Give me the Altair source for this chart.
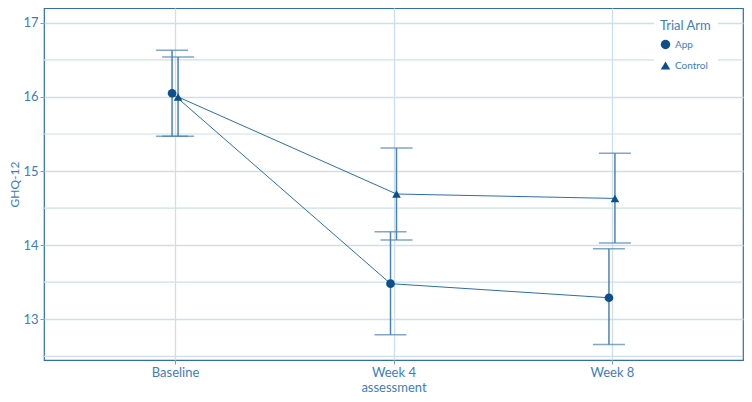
import altair as alt
import pandas as pd

timepoints = ["Baseline", "Week 4\nassessment", "Week 8"]
arms = ["App", "Control"]
app_mean = [16.05, 13.48, 13.29]
app_low = [15.47, 12.79, 12.66]
app_high = [16.63, 14.18, 13.95]
ctl_mean = [16.00, 14.69, 14.63]
ctl_low = [15.47, 14.07, 14.03]
ctl_high = [16.54, 15.31, 15.24]
y_ticks = [13, 14, 15, 16, 17]
y_minor = [12.5, 13.5, 14.5, 15.5, 16.5]

rows = []
for arm, m, lo, hi in [("App", app_mean, app_low, app_high), ("Control", ctl_mean, ctl_low, ctl_high)]:
    for t, a, b, c in zip(timepoints, m, lo, hi):
        rows.append({"time": t, "arm": arm, "mean": a, "low": b, "high": c})
df = pd.DataFrame(rows)
minor_df = pd.DataFrame({"v": y_minor})

BLUE_TXT = "#3f7db7"
GRID = "#cddfeb"
PT = "#0d4f8b"
LINE = "#2c6ea8"
ERR = "#4c82b4"
FONT = "Lato"

x_enc = alt.X("time:O", sort=timepoints,
              scale=alt.Scale(type="point", padding=0.6),
              axis=alt.Axis(title=None, labelAngle=0, labelExpr="split(datum.label, '\\n')",
                            labelFontSize=13, labelColor=BLUE_TXT, labelFont=FONT,
                            grid=True, gridColor=GRID, gridWidth=1.3, domain=False,
                            tickColor="#7f9fbf", tickSize=4, labelPadding=2, labelLineHeight=15))
xoff = alt.XOffset("arm:N", scale=alt.Scale(type="point", domain=arms, range=[-6, 6]))
y_scale = alt.Scale(domain=[12.45, 17.2], nice=False, zero=False)
y_axis = alt.Axis(title="GHQ-12", values=y_ticks, format="d",
                  tickColor="#7f9fbf", tickSize=4, labelFontSize=13, labelColor=BLUE_TXT, labelFont=FONT,
                  titleFontSize=12, titleFontWeight="normal", titleColor=BLUE_TXT, titleFont=FONT,
                  titlePadding=1, grid=True, gridColor=GRID, gridWidth=1.3, domain=False, labelPadding=2)

base = alt.Chart(df)

minor = alt.Chart(minor_df).mark_rule(color=GRID, strokeWidth=1.2).encode(
    y=alt.Y("v:Q", scale=y_scale, axis=y_axis))

lines = base.mark_line(color=LINE, strokeWidth=1).encode(
    x=x_enc, xOffset=xoff, y=alt.Y("mean:Q", scale=y_scale), detail="arm:N")

rules = base.mark_rule(color=ERR, strokeWidth=1.5).encode(
    x=x_enc, xOffset=xoff, y=alt.Y("low:Q", scale=y_scale), y2="high:Q")

cap_lo = base.mark_tick(color=ERR, size=32, thickness=1.5).encode(
    x=x_enc, xOffset=xoff, y=alt.Y("low:Q", scale=y_scale))
cap_hi = base.mark_tick(color=ERR, size=32, thickness=1.5).encode(
    x=x_enc, xOffset=xoff, y=alt.Y("high:Q", scale=y_scale))

points = base.mark_point(filled=True, color=PT, opacity=1, size=75).encode(
    x=x_enc, xOffset=xoff, y=alt.Y("mean:Q", scale=y_scale),
    shape=alt.Shape("arm:N", scale=alt.Scale(domain=arms, range=["circle", "triangle-up"]),
                    legend=alt.Legend(title="Trial Arm", orient="none", legendX=610, legendY=6,
                                      fillColor="white", padding=6,
                                      titleFontSize=13, titleFontWeight="normal", titleColor=BLUE_TXT,
                                      titleFont=FONT, labelFontSize=10, labelColor=BLUE_TXT,
                                      labelFont=FONT, symbolFillColor=PT, symbolStrokeColor=PT,
                                      symbolSize=90, rowPadding=5, titlePadding=6)))

chart = alt.layer(minor, lines, rules, cap_lo, cap_hi, points).properties(
    width=736, height=386,
    autosize=alt.AutoSizeParams(type="fit", contains="padding"),
    padding={"left": 0, "top": 0, "right": 0, "bottom": 0},
).configure_view(stroke="#2f6ea8", strokeWidth=1.2)

chart.save("out.html", embed_options={"renderer": "svg", "actions": False})
